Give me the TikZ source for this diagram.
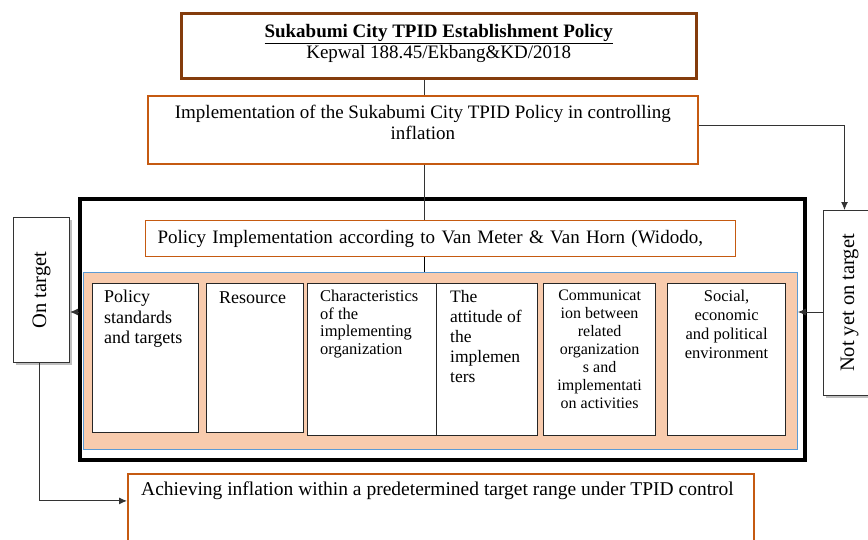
\documentclass[tikz,border=0pt]{standalone}
\usepackage{fontspec}
\setmainfont{Liberation Serif}
\usepackage{graphicx}
\usetikzlibrary{positioning, arrows.meta, shadows}
\definecolor{policybrown}{RGB}{132,60,12}
\definecolor{policyorange}{RGB}{197,90,17}
\definecolor{peach}{HTML}{F8CBAD}
\definecolor{edgeblue}{HTML}{5B9BD5}

\begin{document}
\begin{tikzpicture}[x=1pt, y=-1pt, >={Latex[length=8pt, width=7pt]}, font=\fontsize{19}{21}\selectfont]
 % We define the styles for the boxes and the connectors
 \tikzset{
titlebox/.style = {draw=policybrown, line width=2.5pt, anchor=north west, align=center, minimum width=515pt, minimum height=65pt},
orangebox/.style = {draw=policyorange, line width=1.8pt, anchor=north west},
framebox/.style = {draw=black, line width=4pt, anchor=north west},
factor/.style = {draw=black!85, line width=1.2pt, fill=white, anchor=north west, minimum height=149pt},
factortext/.style = {anchor=north west, align=left, inner sep=0pt},
sidebox/.style = {draw=black!80, line width=1pt, fill=white, anchor=north west, font=\fontsize{20.5}{22}\selectfont, drop shadow={shadow xshift=2.5pt, shadow yshift=-2.5pt, fill=black!25, opacity=1}},
line/.style = {draw, black!80, line width=1pt},
}
 \useasboundingbox (0,0) rectangle (868,539);

 % Policy blocks at the top
 \node [titlebox] (estab) at (180,12) {\parbox[c][43pt][t]{500pt}{\centering\textbf{\underline{Sukabumi City TPID Establishment Policy}}\\ Kepwal 188.45/Ekbang\&KD/2018}};
 \node [orangebox, minimum width=550pt, minimum height=68pt] (impl) at (147,95) {\parbox[c][50pt][t]{534pt}{\centering Implementation of the Sukabumi City TPID Policy in controlling\\ inflation}};

 % Van Meter & Van Horn frame
 \node [framebox, minimum width=725pt, minimum height=261pt] (frame) at (78,197) {};
 \node [orangebox, line width=1.2pt, minimum width=590pt, minimum height=36pt, inner xsep=12pt, text width=566pt, align=left] (policy) at (145,220) {Policy Implementation according to Van Meter \& Van Horn (Widodo,};
 \node [draw=edgeblue, fill=peach, line width=0.8pt, anchor=north west, minimum width=714pt, minimum height=177pt] (peach) at (83,272) {};

 % The six factors
 \node [factor, minimum width=106pt] (f1) at (92,283) {};
 \node [factor, minimum width=97pt] (f2) at (206,283) {};
 \node [factor, minimum width=129pt, minimum height=152pt] (f3) at (307,283) {};
 \node [factor, minimum width=101pt, minimum height=152pt] (f4) at (436,283) {};
 \node [factor, minimum width=112pt, minimum height=152pt] (f5) at (543,283) {};
 \node [factor, minimum width=118pt, minimum height=152pt] (f6) at (667,283) {};
 \node [factortext, font=\fontsize{18}{20.5}\selectfont] (f1text) at ([shift={(12pt,-7pt)}]f1.north west) {Policy\\ standards\\ and targets};
 \node [factortext, font=\fontsize{18}{20}\selectfont] (f2text) at ([shift={(13pt,-9pt)}]f2.north west) {Resource};
 \node [factortext, font=\fontsize{16.5}{17.5}\selectfont] (f3text) at ([shift={(13pt,-7pt)}]f3.north west) {Characteristics\\ of the\\ implementing\\ organization};
 \node [factortext, font=\fontsize{17.5}{20}\selectfont] (f4text) at ([shift={(14pt,-7pt)}]f4.north west) {The\\ attitude of\\ the\\ implemen\\ ters};
 \node [factortext, anchor=north, align=center, font=\fontsize{16}{18}\selectfont] (f5text) at ([yshift=-7pt]f5.north) {Communicat\\ ion between\\ related\\ organization\\ s and\\ implementati\\ on activities};
 \node [factortext, anchor=north, align=center, font=\fontsize{16.5}{19}\selectfont] (f6text) at ([yshift=-7pt]f6.north) {Social,\\ economic\\ and political\\ environment};

 % Side boxes
 \node [sidebox, minimum width=56pt, minimum height=145pt] (ontarget) at (13,217) {\rotatebox{90}{On target}};
 \node [sidebox, minimum width=52pt, minimum height=185pt] (notyet) at (823,210) {\rotatebox{90}{Not yet on target}};

 % Result block at the bottom
 \node [orangebox, minimum width=626pt, minimum height=80pt] (result) at (127,473) {};
 \node [factortext, font=\fontsize{19.5}{21}\selectfont] (resulttext) at ([shift={(14pt,-9pt)}]result.north west) {Achieving inflation within a predetermined target range under TPID control};

 % Connectors
 \coordinate (spine) at (424,0);
 \coordinate (feedback) at (0,312);
 \draw [line] (estab.south -| spine) -- (impl.north -| spine);
 \draw [line] (impl.south -| spine) -- (policy.north -| spine);
 \draw [line, black] (policy.south -| spine) -- (peach.north -| spine);
 \draw [line, ->] ([yshift=4pt]impl.east) -| ([xshift=-5pt]notyet.north);
 \draw [line, ->] (notyet.west |- feedback) -- (peach.east |- feedback);
 \draw [line, ->] (frame.west |- feedback) -- (ontarget.east |- feedback);
 \draw [line, ->] ([xshift=-2pt]ontarget.south) |- ([yshift=13pt]result.west);

\end{tikzpicture}
\end{document}
